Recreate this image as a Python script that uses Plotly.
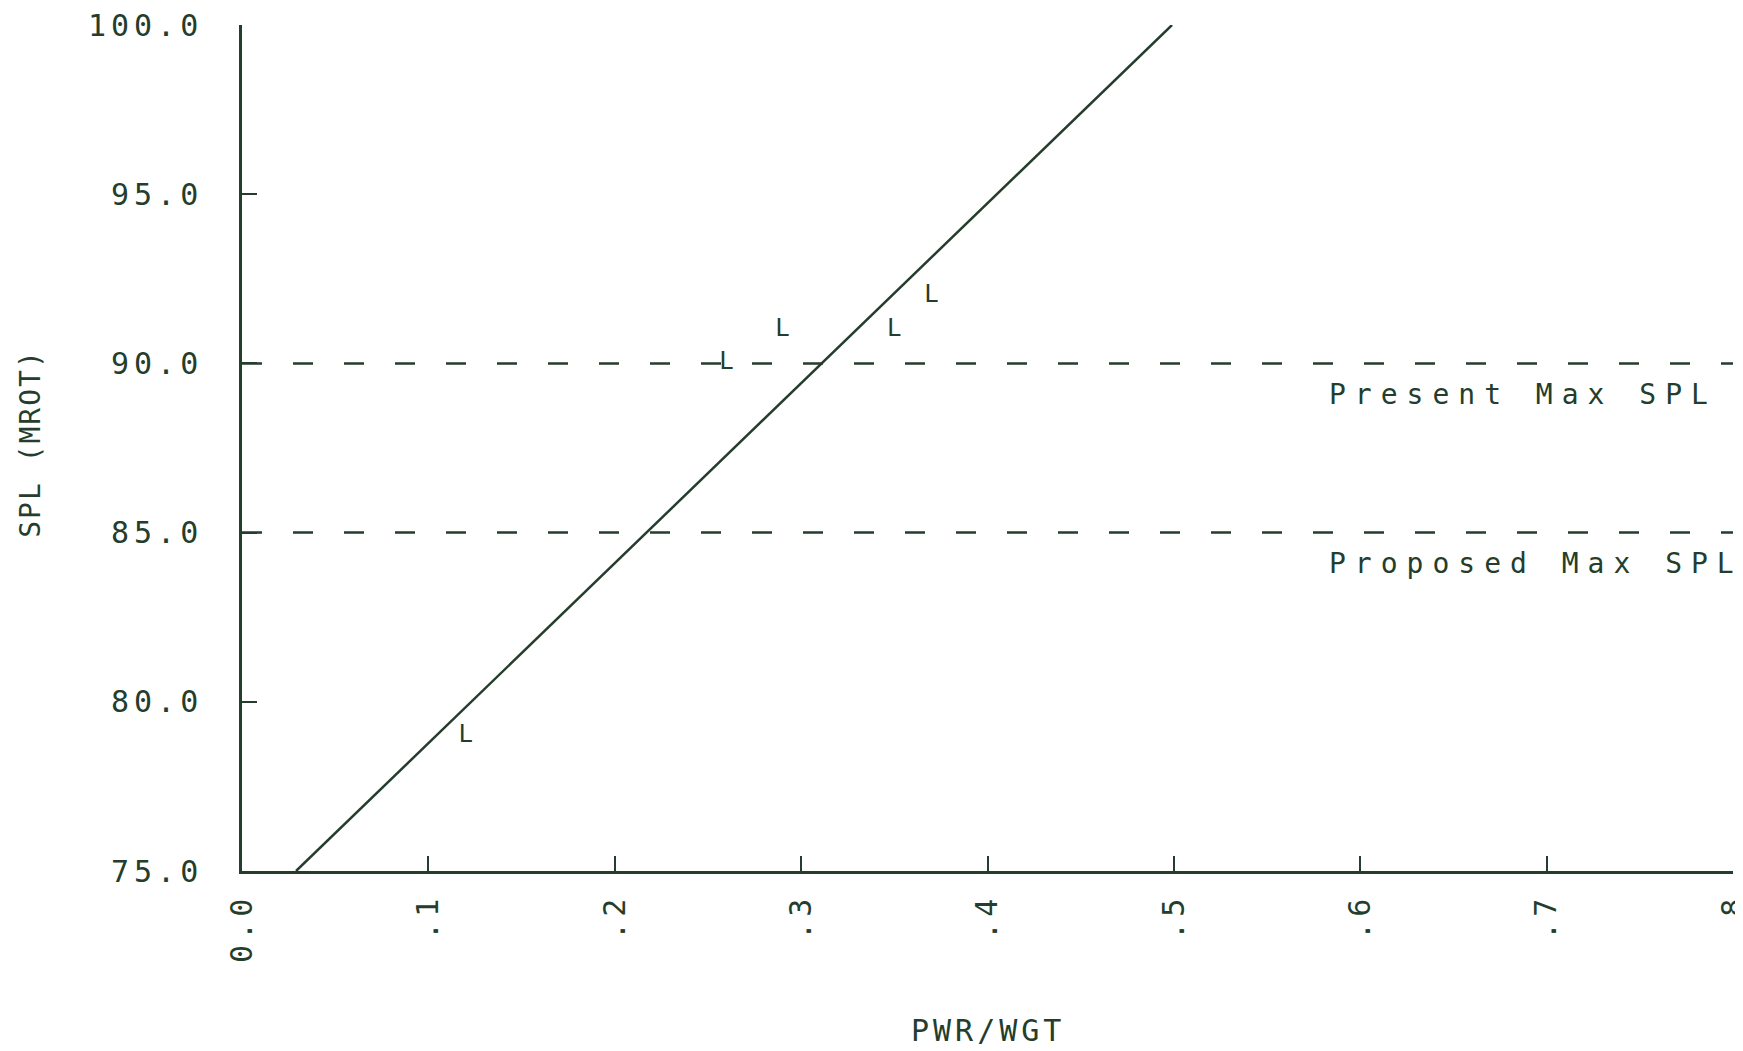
import plotly.graph_objects as go

# ---- data ----
fit_x = [0.029, 0.499]          # fitted line endpoints (PWR/WGT)
fit_y = [75.0, 100.0]           # SPL (MROT)
obs_x = [0.12, 0.26, 0.29, 0.35, 0.37]
obs_y = [79.0, 90.0, 91.0, 91.0, 92.0]
obs_label = ["L", "L", "L", "L", "L"]
limit_values = [90.0, 85.0]
limit_names = ["Present Max SPL", "Proposed Max SPL"]
x_tick_vals = [0.0, 0.1, 0.2, 0.3, 0.4, 0.5, 0.6, 0.7, 0.8]
x_tick_text = ["0.0", ".1", ".2", ".3", ".4", ".5", ".6", ".7", ".8"]
y_tick_vals = [75, 80, 85, 90, 95, 100]
y_tick_text = ["75.0", "80.0", "85.0", "90.0", "95.0", "100.0"]
x_title = "PWR/WGT"
y_title = "SPL (MROT)"

INK = "#243d2c"
FONT = "DejaVu Sans Mono"


def spaced(t, s):
    return f'<span style="letter-spacing:{s}px">{t}</span>'


fig = go.Figure()

# threshold dashed lines
for v in limit_values:
    fig.add_trace(go.Scatter(x=[x_tick_vals[0], x_tick_vals[-1]], y=[v, v], mode="lines",
                             line=dict(color=INK, width=2.5, dash="20px,31px"),
                             hoverinfo="skip", showlegend=False))

# fitted line
fig.add_trace(go.Scatter(x=fit_x, y=fit_y, mode="lines",
                         line=dict(color=INK, width=2.5), showlegend=False))

# observation symbols
fig.add_trace(go.Scatter(x=obs_x, y=obs_y, mode="text", text=obs_label,
                         textposition="middle center",
                         textfont=dict(family=FONT, size=24, color=INK),
                         showlegend=False))

annotations = []
for v, name in zip(limit_values, limit_names):
    annotations.append(dict(x=0.582, y=v, xref="x", yref="y", text=spaced(name, 9),
                            showarrow=False, xanchor="left", yanchor="middle", yshift=-31,
                            font=dict(family=FONT, size=28, color=INK)))
annotations.append(dict(x=0.5, y=0, xref="paper", yref="paper", text=spaced(x_title, 4),
                        showarrow=False, xanchor="center", yanchor="middle", yshift=-159,
                        font=dict(family=FONT, size=30, color=INK)))
annotations.append(dict(x=0, y=0.505, xref="paper", yref="paper", text=spaced(y_title, 2),
                        showarrow=False, xanchor="center", yanchor="middle", xshift=-211,
                        textangle=-90, font=dict(family=FONT, size=28, color=INK)))

# the page body has an 8px margin; size the figure so it ends at the window edge
fig.update_layout(
    width=1735, height=1043,
    margin=dict(l=234, r=10, t=17, b=180),
    paper_bgcolor="white", plot_bgcolor="white",
    showlegend=False,
    annotations=annotations,
    xaxis=dict(range=[0, 0.8], tickvals=x_tick_vals,
               ticktext=[spaced(t, 5) for t in x_tick_text],
               tickangle=-90, ticks="inside", ticklen=15, tickwidth=2, tickcolor=INK,
               showline=True, linecolor=INK, linewidth=2.5, showgrid=False, zeroline=False,
               ticklabeloverflow="allow", automargin=False,
               tickfont=dict(family=FONT, size=30, color=INK), ticklabelstandoff=8),
    yaxis=dict(range=[75, 100], tickvals=y_tick_vals,
               ticktext=[spaced(t, 5) for t in y_tick_text],
               ticks="inside", ticklen=15, tickwidth=2, tickcolor=INK,
               showline=True, linecolor=INK, linewidth=2.5, showgrid=False, zeroline=False,
               ticklabeloverflow="allow", automargin=False,
               tickfont=dict(family=FONT, size=30, color=INK), ticklabelstandoff=30),
)

fig.write_html("out.html")
